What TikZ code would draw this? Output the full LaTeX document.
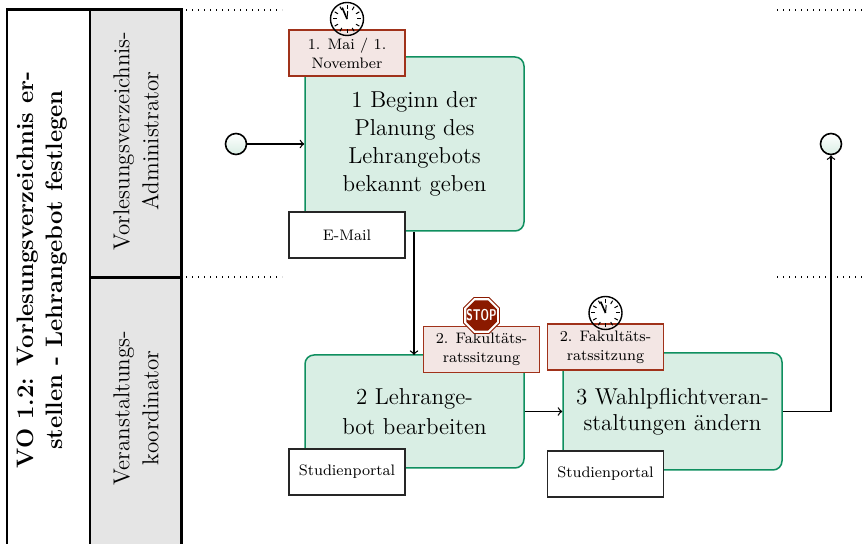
\documentclass[tikz,border=0pt]{standalone}
\usepackage{amsmath}
\usetikzlibrary{arrows,positioning,shapes.geometric}

\definecolor{taskgreen}{HTML}{0F8F5F}
\definecolor{taskfill}{HTML}{D9EEE4}
\definecolor{notered}{HTML}{A0321A}
\definecolor{notefill}{HTML}{F3E6E4}
\definecolor{stopred}{HTML}{8B1A00}
\definecolor{lanegray}{HTML}{E5E5E5}

\tikzset{
  task/.style={draw=taskgreen, fill=taskfill, line width=0.75pt, rounded corners=4.5pt,
    minimum width=109.5pt, align=center, font=\fontsize{11.5}{14}\selectfont, inner sep=0pt},
  note/.style={draw=notered, fill=notefill, line width=0.8pt, minimum width=58pt, minimum height=23pt,
    align=center, font=\fontsize{7.6}{9.5}\selectfont, inner sep=0pt},
  doc/.style={draw=black!85, fill=white, line width=0.8pt, minimum width=58pt, minimum height=23pt,
    align=center, font=\fontsize{7.6}{9.5}\selectfont, inner sep=0pt},
  event/.style={circle, draw=black, line width=0.8pt, minimum size=10.5pt, inner sep=0pt,
    top color=white, bottom color=taskfill},
  timer/.style={circle, draw=black, line width=0.7pt, minimum size=16.5pt, inner sep=0pt},
  halt/.style={regular polygon, regular polygon sides=8, draw=stopred, fill=white, line width=0.4pt,
    minimum size=19.5pt, inner sep=0pt},
  haltcore/.style={regular polygon, regular polygon sides=8, fill=stopred, minimum size=16.5pt, inner sep=0pt},
  lane/.style={draw=black, line width=0.6pt, minimum width=45.5pt, align=center, inner sep=0pt,
    fill=lanegray, font=\fontsize{11.5}{14.5}\selectfont},
  flow/.style={->, black, line width=0.65pt},
  swim/.style={dash pattern=on 0.6pt off 2.4pt, black, line width=0.6pt}
}

\newcommand{\clockhands}[1]{
  \foreach \a in {0,30,...,330}
    \draw[line width=0.5pt] (#1.center) ++(\a:5.2pt) -- ++(\a:1.9pt);
  \draw[line width=0.8pt] (#1.center) -- ++(113:6.2pt);
  \draw[line width=0.5pt] (#1.center) -- ++(85:4pt);
}

\begin{document}
\begin{tikzpicture}[>=to,x=0.5pt,y=-0.5pt,node distance=17pt]
  \useasboundingbox (0,0) rectangle (867,544);
  \clip (0,0) rectangle (867,544);

  % lanes
  \node[lane, fill=white, minimum width=41.5pt, minimum height=280pt] (title) at (48.5,290) {};
  \node[lane, minimum height=133.5pt] (lane1) at (135.5,143.5) {};
  \node[lane, minimum height=140pt] (lane2) at (135.5,417) {};
  \draw[line width=1pt] (title.north west) -- (lane1.north east) -- (lane2.south east);
  \draw[line width=1pt] (lane1.south west) -- (lane1.south east);
  \node[rotate=90, align=center, font=\fontsize{11.9}{14.5}\selectfont\bfseries] (titletext) at (42,270)
    {VO 1.2: Vorlesungsverzeichnis er-\\stellen - Lehrangebot festlegen};
  \node[rotate=90, align=center, font=\fontsize{11.5}{14.5}\selectfont] (lane1text) at (136,141)
    {Vorlesungsverzeichnis-\\Administrator};
  \node[rotate=90, align=center, font=\fontsize{11.5}{14.5}\selectfont] (lane2text) at (136,408)
    {Veranstaltungs-\\koordinator};

  \coordinate (d1) at (186,10);
  \coordinate (d2) at (282,10);
  \coordinate (d3) at (186,277);
  \coordinate (d4) at (282,277);
  \coordinate (d5) at (777,10);
  \coordinate (d6) at (867,10);
  \coordinate (d7) at (777,277);
  \coordinate (d8) at (867,277);
  \draw[swim] (d1) -- (d2) (d3) -- (d4) (d5) -- (d6) (d7) -- (d8);

  % tasks
  \node[task, minimum height=87pt] (t1) at (414.5,144) {1 Beginn der\\Planung des\\Lehrangebots\\bekannt geben};
  \node[task, minimum height=56.5pt] (t2) at (414.5,411.5) {2 Lehrange-\\[1pt]bot bearbeiten};
  \node[task, minimum height=58.5pt] (t3) at (672.5,411.5) {3 Wahlpflichtveran-\\[-1pt]staltungen \"andern};

  \node[event] (start) at (236,144) {};
  \node[event] (end) at (831,144) {};

  % arrows
  \draw[flow] (start) -- (t1);
  \draw[flow] (t1.south -| 414,0) -- (414,355);
  \draw[flow] (t2) -- (t3);
  \draw[flow] (t3) -| (end);

  % notes
  \node[note] (n1) at (347,53) {1. Mai / 1.\\November};
  \node[note] (n2) at (481.5,349.5) {2. Fakult\"ats-\\ratssitzung};
  \node[note] (n3) at (605.5,347) {2. Fakult\"ats-\\ratssitzung};
  \node[doc] (p1) at (347,235) {E-Mail};
  \node[doc] (p2) at (347,472) {Studienportal};
  \node[doc] (p3) at (605.5,474) {Studienportal};

  % timers
  \node[timer] (c1) [above of=n1] {};
  \clockhands{c1}
  \node[timer] (c3) [above of=n3] {};
  \clockhands{c3}
  \node[halt] (s2) [above of=n2] {};
  \node[haltcore] (s2core) at (s2) {};
  \node[text=white, inner sep=0pt, font=\sffamily\bfseries\fontsize{7.8}{8}\selectfont] (s2text) at (s2)
    {\scalebox{0.68}[1]{STOP}};
\end{tikzpicture}
\end{document}
